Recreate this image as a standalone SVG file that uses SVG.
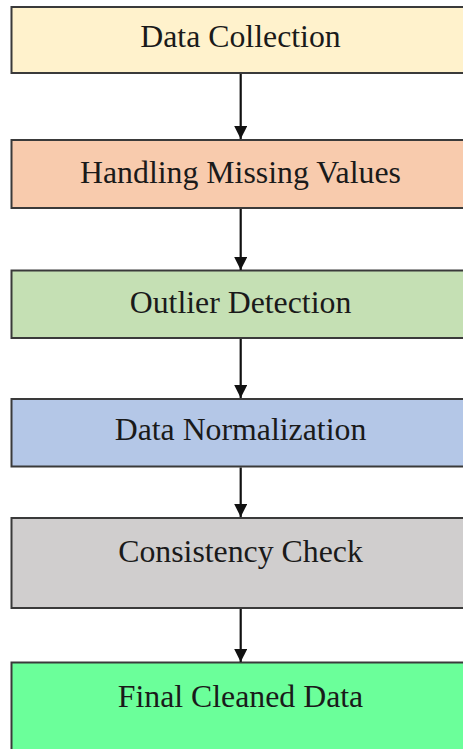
<svg xmlns="http://www.w3.org/2000/svg" width="463" height="749" viewBox="0 0 463 749">
<defs>
<style>
.box{stroke:#3a3a3a;stroke-width:2}
.lbl{font-family:"Liberation Serif","Times New Roman",serif;font-size:31.8px;fill:#1a1a1a;text-anchor:middle}
.conn{stroke:#111;stroke-width:2.2;fill:none}
</style>
<marker id="ah" markerWidth="13" markerHeight="13" refX="13" refY="6.5" orient="auto" markerUnits="userSpaceOnUse">
<path d="M0,0 L13,6.5 L0,13 Z" fill="#111"/>
</marker>
</defs>
<rect width="463" height="749" fill="#fff"/>
<g id="n1"><rect class="box" x="11.5" y="7" width="460" height="66" fill="#FFF2CC"/><text class="lbl" x="240.5" y="47">Data Collection</text></g>
<g id="n2"><rect class="box" x="11.5" y="140" width="460" height="68" fill="#F8CBAD"/><text class="lbl" x="240.5" y="183">Handling Missing Values</text></g>
<g id="n3"><rect class="box" x="11.5" y="270.5" width="460" height="67.5" fill="#C5E0B4"/><text class="lbl" x="240.5" y="313">Outlier Detection</text></g>
<g id="n4"><rect class="box" x="11.5" y="399" width="460" height="67.5" fill="#B4C7E7"/><text class="lbl" x="240.5" y="440">Data Normalization</text></g>
<g id="n5"><rect class="box" x="11.5" y="518" width="460" height="90" fill="#D0CECE"/><text class="lbl" x="240.5" y="562">Consistency Check</text></g>
<g id="n6"><rect class="box" x="11.5" y="662.5" width="460" height="100" fill="#6BFF9A"/><text class="lbl" x="240.5" y="707">Final Cleaned Data</text></g>
<g id="connectors">
<line class="conn" x1="240.7" y1="74" x2="240.7" y2="139" marker-end="url(#ah)"/>
<line class="conn" x1="240.7" y1="209" x2="240.7" y2="270" marker-end="url(#ah)"/>
<line class="conn" x1="240.7" y1="339" x2="240.7" y2="398" marker-end="url(#ah)"/>
<line class="conn" x1="240.7" y1="467.5" x2="240.7" y2="517" marker-end="url(#ah)"/>
<line class="conn" x1="240.7" y1="609" x2="240.7" y2="662" marker-end="url(#ah)"/>
</g>
</svg>
